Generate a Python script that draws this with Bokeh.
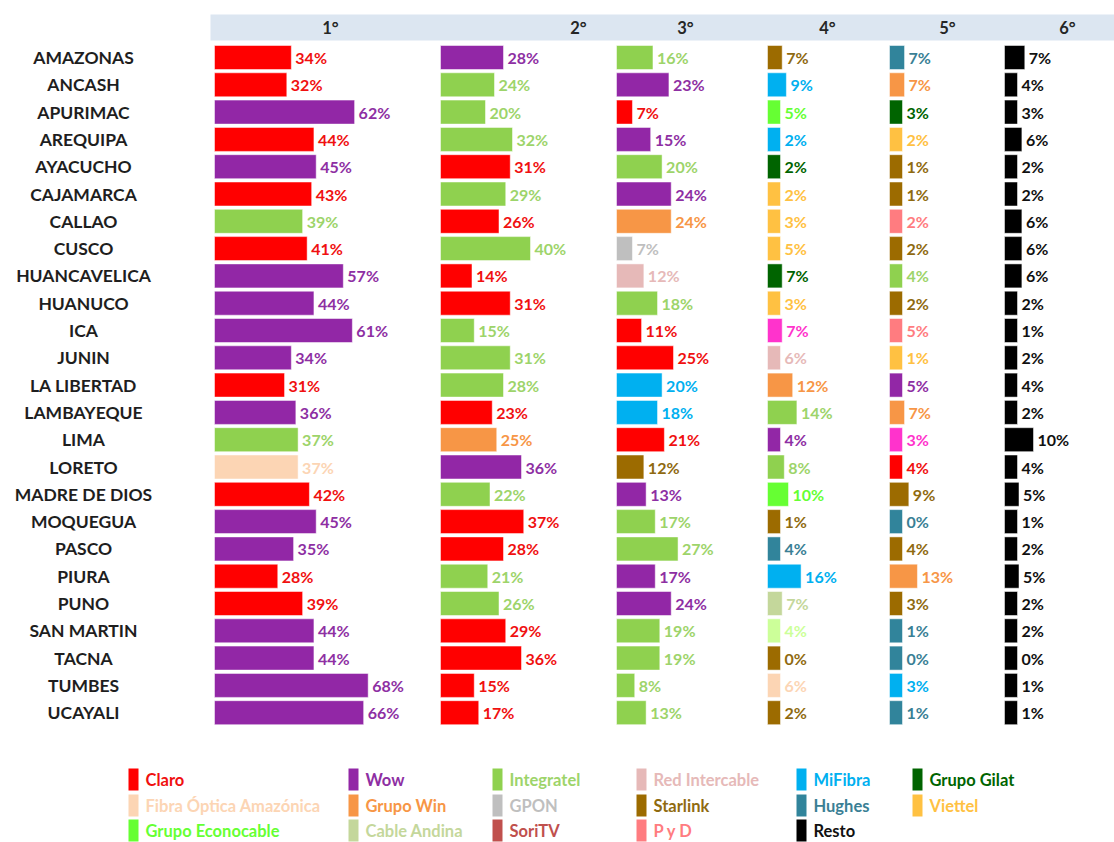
from bokeh.plotting import figure
from bokeh.models import Range1d, ColumnDataSource
from bokeh.embed import file_html
from bokeh.resources import INLINE
from bokeh.core.properties import value

# ---------------- data ----------------
regions = ["AMAZONAS", "ANCASH", "APURIMAC", "AREQUIPA", "AYACUCHO", "CAJAMARCA",
           "CALLAO", "CUSCO", "HUANCAVELICA", "HUANUCO", "ICA", "JUNIN",
           "LA LIBERTAD", "LAMBAYEQUE", "LIMA", "LORETO", "MADRE DE DIOS",
           "MOQUEGUA", "PASCO", "PIURA", "PUNO", "SAN MARTIN", "TACNA",
           "TUMBES", "UCAYALI"]

rank_labels = ["1°", "2°", "3°", "4°", "5°", "6°"]

rank1_provider = ["Claro", "Claro", "Wow", "Claro", "Wow", "Claro", "Integratel", "Claro",
                  "Wow", "Wow", "Wow", "Wow", "Claro", "Wow", "Integratel",
                  "Fibra Óptica Amazónica", "Claro", "Wow", "Wow", "Claro", "Claro",
                  "Wow", "Wow", "Wow", "Wow"]
rank1_value = [34, 32, 62, 44, 45, 43, 39, 41, 57, 44, 61, 34, 31, 36, 37, 37, 42, 45, 35,
               28, 39, 44, 44, 68, 66]

rank2_provider = ["Wow", "Integratel", "Integratel", "Integratel", "Claro", "Integratel",
                  "Claro", "Integratel", "Claro", "Claro", "Integratel", "Integratel",
                  "Integratel", "Claro", "Grupo Win", "Wow", "Integratel", "Claro", "Claro",
                  "Integratel", "Integratel", "Claro", "Claro", "Claro", "Claro"]
rank2_value = [28, 24, 20, 32, 31, 29, 26, 40, 14, 31, 15, 31, 28, 23, 25, 36, 22, 37, 28,
               21, 26, 29, 36, 15, 17]

rank3_provider = ["Integratel", "Wow", "Claro", "Wow", "Integratel", "Wow", "Grupo Win",
                  "GPON", "Red Intercable", "Integratel", "Claro", "Claro", "MiFibra",
                  "MiFibra", "Claro", "Starlink", "Wow", "Integratel", "Integratel", "Wow",
                  "Wow", "Integratel", "Integratel", "Integratel", "Integratel"]
rank3_value = [16, 23, 7, 15, 20, 24, 24, 7, 12, 18, 11, 25, 20, 18, 21, 12, 13, 17, 27,
               17, 24, 19, 19, 8, 13]

rank4_provider = ["Starlink", "MiFibra", "Grupo Econocable", "MiFibra", "Grupo Gilat",
                  "Viettel", "Viettel", "Viettel", "Grupo Gilat", "Viettel", "Otro (magenta)",
                  "Red Intercable", "Grupo Win", "Integratel", "Wow", "Integratel",
                  "Grupo Econocable", "Starlink", "Hughes", "MiFibra", "Cable Andina",
                  "Otro (verde claro)", "Starlink", "Fibra Óptica Amazónica", "Starlink"]
rank4_value = [7, 9, 5, 2, 2, 2, 3, 5, 7, 3, 7, 6, 12, 14, 4, 8, 10, 1, 4, 16, 7, 4, 0, 6, 2]

rank5_provider = ["Hughes", "Grupo Win", "Grupo Gilat", "Viettel", "Starlink", "Starlink",
                  "P y D", "Starlink", "Integratel", "Starlink", "P y D", "Viettel", "Wow",
                  "Grupo Win", "Otro (magenta)", "Claro", "Starlink", "Hughes", "Starlink",
                  "Grupo Win", "Starlink", "Hughes", "Hughes", "MiFibra", "Hughes"]
rank5_value = [7, 7, 3, 2, 1, 1, 2, 2, 4, 2, 5, 1, 5, 7, 3, 4, 9, 0, 4, 13, 3, 1, 0, 3, 1]

rank6_provider = ["Resto"] * 25
rank6_value = [7, 4, 3, 6, 2, 2, 6, 6, 6, 2, 1, 2, 4, 2, 10, 4, 5, 1, 2, 5, 2, 2, 0, 1, 1]

legend_row1 = ["Claro", "Wow", "Integratel", "Red Intercable", "MiFibra", "Grupo Gilat"]
legend_row2 = ["Fibra Óptica Amazónica", "Grupo Win", "GPON", "Starlink", "Hughes", "Viettel"]
legend_row3 = ["Grupo Econocable", "Cable Andina", "SoriTV", "P y D", "Resto"]

# ---------------- styles ----------------
bar_color = {
    "Claro": "#ff0000", "Wow": "#9227a6", "Integratel": "#8fd14f",
    "Red Intercable": "#e6b9b8", "MiFibra": "#00b0f0", "Grupo Gilat": "#006400",
    "Fibra Óptica Amazónica": "#fcd5b4", "Grupo Win": "#f79646", "GPON": "#bfbfbf",
    "Starlink": "#9c6b00", "Hughes": "#31849b", "Viettel": "#ffc142",
    "Grupo Econocable": "#66ff33", "Cable Andina": "#c4d79b", "SoriTV": "#c0504d",
    "P y D": "#ff7c80", "Resto": "#000000", "Otro (magenta)": "#ff33cc",
    "Otro (verde claro)": "#ccff99",
}
text_color = dict(bar_color)
text_color.update({"Integratel": "#9dd46a", "Wow": "#8e2fa3", "Claro": "#f01010",
                   "Starlink": "#8f6a10", "Hughes": "#3a7f95", "Resto": "#111111"})

FONT = value("Lato")
col_start = [214, 440, 616, 767, 889, 1004]
col_scale = [2.26, 2.25, 2.28, 2.1, 2.15, 2.9]
min_bar = 13
header_x = [330, 578, 685, 827, 947, 1067]
row0, row_step = 57, 27.3
bar_h = 24

W, H = 1114, 842
p = figure(width=W, height=H, x_range=Range1d(0, W), y_range=Range1d(H, 0),
           output_backend="svg", toolbar_location=None, min_border=0,
           x_axis_type=None, y_axis_type=None)
p.grid.visible = False
p.outline_line_color = None
p.background_fill_color = "white"

# header band
p.quad(left=[210], right=[1120], top=[14], bottom=[40], fill_color="#dce6f1", line_color=None)
p.text(x=header_x, y=[27] * 6, text=rank_labels, text_font=FONT, text_font_style="bold",
       text_font_size="16.5px", text_align="center", text_baseline="middle", text_color="#262626")

ys = [row0 + i * row_step for i in range(len(regions))]

# region names
p.text(x=[83] * len(regions), y=ys, text=regions, text_font=FONT, text_font_style="bold",
       text_font_size="17.5px", text_align="center", text_baseline="middle", text_color="#1e1e1e")

ranks = [(rank1_provider, rank1_value), (rank2_provider, rank2_value),
         (rank3_provider, rank3_value), (rank4_provider, rank4_value),
         (rank5_provider, rank5_value), (rank6_provider, rank6_value)]

for c, (provs, vals) in enumerate(ranks):
    left = [col_start[c]] * len(vals)
    right = [col_start[c] + max(v * col_scale[c], min_bar) for v in vals]
    src = ColumnDataSource(dict(
        y=ys, left=left, right=right,
        fill=[bar_color[pv] for pv in provs],
        tcol=[text_color[pv] for pv in provs],
        lx=[r + 4 for r in right],
        lab=[f"{v}%" for v in vals],
    ))
    p.hbar(y="y", left="left", right="right", height=bar_h, fill_color="fill",
           line_color="white", line_width=0.5, source=src)
    p.text(x="lx", y="y", text="lab", text_color="tcol", source=src, text_font=FONT,
           text_font_style="bold", text_font_size="16px", text_align="left",
           text_baseline="middle")

# legend
leg_x = [128, 348, 492, 636, 796, 912]
leg_y = [779, 805, 830]
for r, row in enumerate([legend_row1, legend_row2, legend_row3]):
    xs = leg_x[:len(row)]
    p.quad(left=xs, right=[x + 10 for x in xs], top=[leg_y[r] - 11] * len(row),
           bottom=[leg_y[r] + 11] * len(row), fill_color=[bar_color[n] for n in row],
           line_color=None)
    p.text(x=[x + 17 for x in xs], y=[leg_y[r]] * len(row), text=row,
           text_color=[text_color[n] for n in row], text_font=FONT, text_font_style="bold",
           text_font_size="16.5px", text_align="left", text_baseline="middle")

open("out.html", "w").write(file_html(p, INLINE))
